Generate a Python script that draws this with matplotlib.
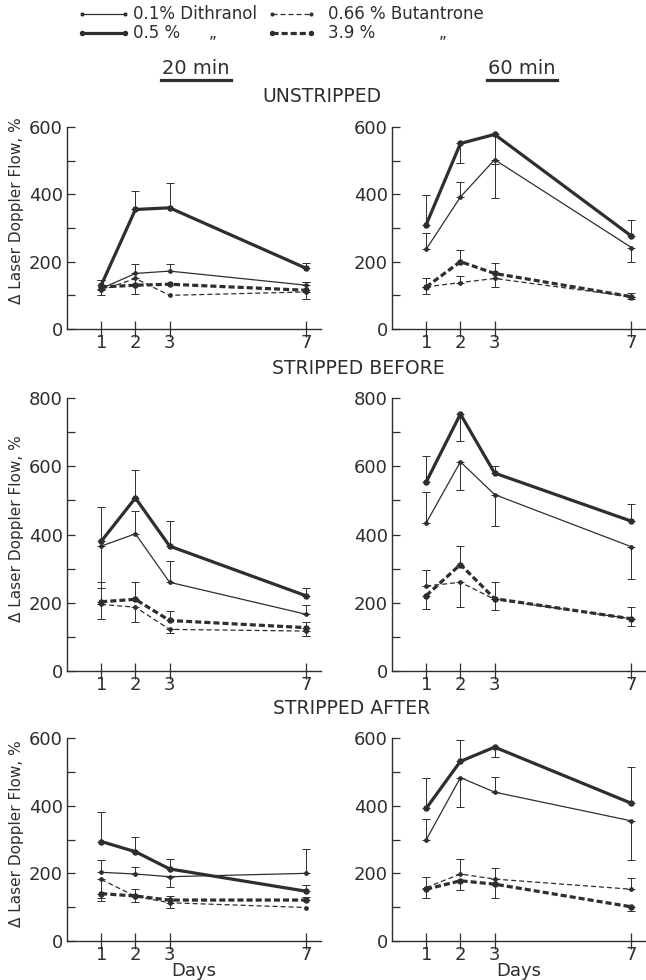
import matplotlib
matplotlib.use("Agg")
import matplotlib.pyplot as plt
from matplotlib.lines import Line2D
from matplotlib.ticker import MultipleLocator

plt.rcParams['font.family'] = ['DejaVu Sans']

INK = '#2e2e2e'
W, H = 646, 980

DAYS = [1, 2, 3, 7]

# error values: positive = bar drawn upward, negative = downward, 0 = none
# UNSTRIPPED, 20 min
un20_d01 = [120, 165, 172, 130]
un20_d01_err = [25, 27, 20, 10]
un20_d05 = [130, 355, 360, 180]
un20_d05_err = [15, 55, 75, 17]
un20_b066 = [115, 150, 100, 110]
un20_b066_err = [-15, -45, 0, -20]
un20_b39 = [125, 130, 133, 115]
un20_b39_err = [0, 0, 0, 25]

# UNSTRIPPED, 60 min
un60_d01 = [237, 392, 503, 242]
un60_d01_err = [47, 45, -113, -44]
un60_d05 = [310, 551, 578, 276]
un60_d05_err = [87, -58, -88, 49]
un60_b066 = [125, 138, 150, 96]
un60_b066_err = [-22, 19, -25, -8]
un60_b39 = [125, 200, 165, 96]
un60_b39_err = [25, 36, 30, 12]

# STRIPPED BEFORE, 20 min
sb20_d01 = [366, 402, 260, 166]
sb20_d01_err = [-122, 68, 62, 26]
sb20_d05 = [380, 507, 366, 220]
sb20_d05_err = [101, 83, 73, 24]
sb20_b066 = [195, 187, 122, 117]
sb20_b066_err = [-42, -44, -10, -15]
sb20_b39 = [203, 210, 148, 127]
sb20_b39_err = [58, 51, 28, 17]

# STRIPPED BEFORE, 60 min
sb60_d01 = [434, 613, 517, 364]
sb60_d01_err = [90, -83, -93, -94]
sb60_d05 = [554, 753, 580, 439]
sb60_d05_err = [75, -80, 20, 49]
sb60_b066 = [249, 260, 210, 153]
sb60_b066_err = [47, -73, -30, -21]
sb60_b39 = [221, 312, 212, 153]
sb60_b39_err = [-38, 54, 49, 34]

# STRIPPED AFTER, 20 min
sa20_d01 = [203, 198, 190, 200]
sa20_d01_err = [36, 21, -30, 72]
sa20_d05 = [294, 264, 213, 147]
sa20_d05_err = [86, 44, 29, 18]
sa20_b066 = [182, 132, 113, 99]
sa20_b066_err = [-56, -18, -14, 0]
sa20_b39 = [140, 133, 121, 121]
sa20_b39_err = [-21, 22, 11, 10]

# STRIPPED AFTER, 60 min
sa60_d01 = [299, 483, 440, 355]
sa60_d01_err = [61, -86, 44, -116]
sa60_d05 = [392, 531, 573, 407]
sa60_d05_err = [89, 64, -29, 106]
sa60_b066 = [158, 198, 183, 153]
sa60_b066_err = [32, 44, 34, 32]
sa60_b39 = [153, 178, 168, 101]
sa60_b39_err = [-27, -26, -42, -12]

LABELS = ["0.1% Dithranol", "0.5 %", "0.66 % Butantrone", "3.9 %"]
ROW_TITLES = ["UNSTRIPPED", "STRIPPED BEFORE", "STRIPPED AFTER"]
ROW_YMAX = [600, 800, 600]

STYLES = [
    dict(lw=0.9, ls='-', ms=2.4),
    dict(lw=2.3, ls='-', ms=3.6),
    dict(lw=0.9, ls=(0, (4, 2.4)), ms=2.4),
    dict(lw=2.3, ls=(0, (1.9, 0.95)), ms=3.6),
]

PANELS = [
    [(un20_d01, un20_d01_err), (un20_d05, un20_d05_err), (un20_b066, un20_b066_err), (un20_b39, un20_b39_err)],
    [(un60_d01, un60_d01_err), (un60_d05, un60_d05_err), (un60_b066, un60_b066_err), (un60_b39, un60_b39_err)],
    [(sb20_d01, sb20_d01_err), (sb20_d05, sb20_d05_err), (sb20_b066, sb20_b066_err), (sb20_b39, sb20_b39_err)],
    [(sb60_d01, sb60_d01_err), (sb60_d05, sb60_d05_err), (sb60_b066, sb60_b066_err), (sb60_b39, sb60_b39_err)],
    [(sa20_d01, sa20_d01_err), (sa20_d05, sa20_d05_err), (sa20_b066, sa20_b066_err), (sa20_b39, sa20_b39_err)],
    [(sa60_d01, sa60_d01_err), (sa60_d05, sa60_d05_err), (sa60_b066, sa60_b066_err), (sa60_b39, sa60_b39_err)],
]


def fx(px):
    return px / W


def fy(py):
    return 1 - py / H


fig = plt.figure(figsize=(W / 100, H / 100), dpi=100)
fig.patch.set_facecolor('white')

col_x = [67, 392]
row_top = [127, 398, 738]
row_bot = [329, 671, 941]
title_pos = [(322, 97), (358, 368), (352, 708)]
XMAX = 7.42
day_px = 34.2

for r in range(3):
    for c in range(2):
        ax = fig.add_axes([fx(col_x[c]), fy(row_bot[r]), XMAX * day_px / W,
                           (row_bot[r] - row_top[r]) / H])
        ax.set_facecolor('none')
        for (vals, err), st in zip(PANELS[r * 2 + c], STYLES):
            ax.plot(DAYS, vals, color=INK, lw=st['lw'], ls=st['ls'], marker='o',
                    ms=st['ms'], mfc=INK, mec=INK, clip_on=False, zorder=3)
            xs = [d for d, e in zip(DAYS, err) if e != 0]
            ys = [v for v, e in zip(vals, err) if e != 0]
            lo = [max(-e, 0) for e in err if e != 0]
            hi = [max(e, 0) for e in err if e != 0]
            if xs:
                ax.errorbar(xs, ys, yerr=[lo, hi], fmt='none', ecolor=INK,
                            elinewidth=0.7, capsize=2.6, capthick=0.7,
                            clip_on=False, zorder=2)
        ax.set_xlim(0, XMAX)
        ax.set_ylim(0, ROW_YMAX[r])
        ax.set_xticks(DAYS)
        ax.yaxis.set_major_locator(MultipleLocator(200))
        ax.yaxis.set_minor_locator(MultipleLocator(100))
        for s in ['top', 'right']:
            ax.spines[s].set_visible(False)
        for s in ['left', 'bottom']:
            ax.spines[s].set_color(INK)
            ax.spines[s].set_linewidth(1.0)
        ax.tick_params(axis='x', direction='inout', length=11, width=0.9,
                       colors=INK, labelsize=13, pad=-2)
        ax.tick_params(axis='y', which='both', direction='in', length=6,
                       width=0.9, colors=INK, labelsize=13, pad=3)
        if r == 2:
            ax.set_xlabel("Days", fontsize=13, color=INK, labelpad=-1)
    fig.text(fx(title_pos[r][0]), fy(title_pos[r][1]), ROW_TITLES[r],
             fontsize=13.5, color=INK, ha='center', va='center')

# y axis labels
for yc in [211, 529, 834]:
    fig.text(fx(17), fy(yc), "\u0394 Laser Doppler Flow, %", rotation=90,
             fontsize=11, color=INK, ha='center', va='center')

# column headers with underline
for xc, txt in [(195.5, "20 min"), (522, "60 min")]:
    fig.text(fx(xc), fy(68), txt, fontsize=14, color=INK, ha='center', va='center')
    fig.add_artist(Line2D([fx(xc - 35), fx(xc + 35)], [fy(80), fy(80)],
                          transform=fig.transFigure, color=INK, lw=2.3))

# legend
leg = [(82, 125, 133, 14), (82, 125, 133, 33), (272, 311, 328, 14), (272, 311, 328, 33)]
for (x1, x2, xt, yl), st, lab in zip(leg, STYLES, LABELS):
    fig.add_artist(Line2D([fx(x1), fx(x2)], [fy(yl), fy(yl)], transform=fig.transFigure,
                          color=INK, lw=st['lw'], ls=st['ls'], marker='o',
                          ms=st['ms'] * 0.8, mfc=INK, mec=INK))
    fig.text(fx(xt), fy(yl), lab, fontsize=12, color=INK, ha='left', va='center')
for xd in [213, 443]:
    fig.text(fx(xd), fy(38), "\u201e", fontsize=11, color=INK, ha='center', va='baseline')

fig.savefig("out.png", dpi=100, facecolor='white')
